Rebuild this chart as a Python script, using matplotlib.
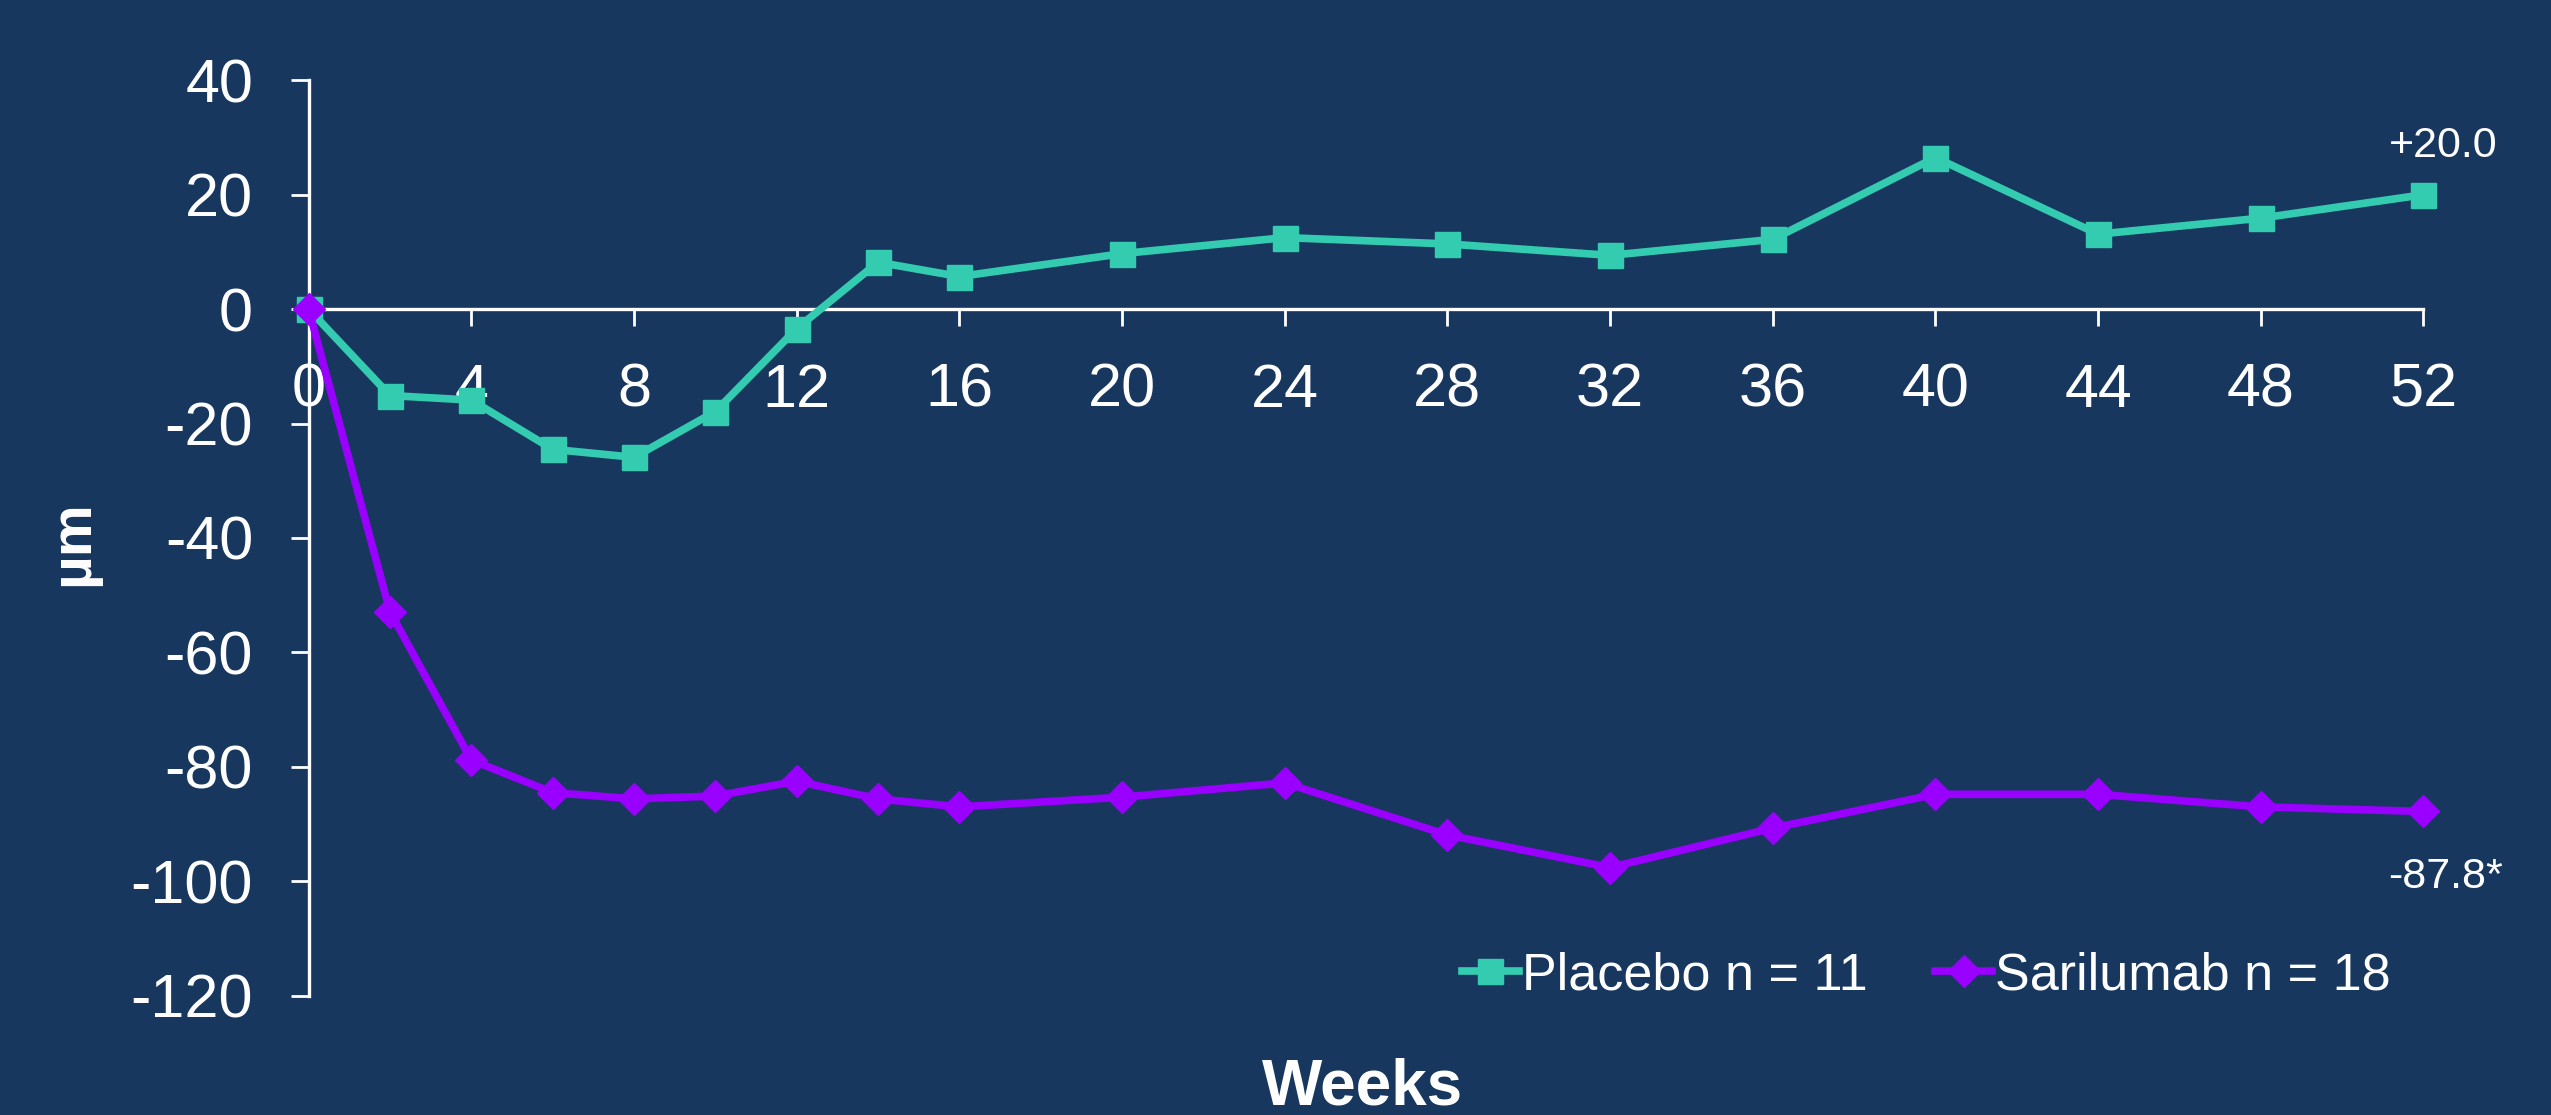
import matplotlib
matplotlib.use("Agg")
import matplotlib.pyplot as plt

# данные
weeks = [0, 2, 4, 6, 8, 10, 12, 14, 16, 20, 24, 28, 32, 36, 40, 44, 48, 52]
placebo = [0, -15.1, -15.9, -24.5, -25.9, -17.9, -3.4, 8.2, 5.7, 9.7, 12.5, 11.4, 9.4, 12.2, 26.5, 13.1, 15.9, 20.0]
sarilumab = [0, -52.9, -78.8, -84.5, -85.6, -85.1, -82.5, -85.6, -87.0, -85.3, -82.8, -91.9, -97.6, -90.7, -84.8, -84.8, -87.0, -87.8]
xticks = list(range(0, 53, 4))
yticks = list(range(-120, 41, 20))
placebo_label = "Placebo n = 11"
sarilumab_label = "Sarilumab n = 18"
end_labels = ["+20.0", "-87.8*"]

bg = "#18375E"
teal = "#33CCB0"
purple = "#9900FF"

plt.rcParams['font.family'] = ['Liberation Sans', 'DejaVu Sans']
plt.rcParams['axes.unicode_minus'] = False  # обычный дефис, как на оригинале

fig = plt.figure(figsize=(25.51, 11.15), dpi=100, facecolor=bg)
ax = fig.add_axes([0.121, 0.107, 0.829, 0.821])
ax.set_facecolor(bg)

ax.plot(weeks, placebo, color=teal, lw=5.5, marker='s', ms=18, label=placebo_label,
        clip_on=False, zorder=3)
ax.plot(weeks, sarilumab, color=purple, lw=5.5, marker='D', ms=16.3, label=sarilumab_label,
        clip_on=False, zorder=4)

ax.set_xlim(0, 52)
ax.set_ylim(-120, 40)
ax.set_xticks(xticks)
ax.set_yticks(yticks)

# оси: x проходит через ноль
ax.spines['top'].set_visible(False)
ax.spines['right'].set_visible(False)
ax.spines['bottom'].set_position(('data', 0))
for s in ('left', 'bottom'):
    ax.spines[s].set_color('white')
    ax.spines[s].set_linewidth(2.4)

ax.tick_params(axis='x', colors='white', labelsize=44, length=12.5, width=2, pad=26, direction='out')
ax.tick_params(axis='y', colors='white', labelsize=44, length=13, width=2, pad=27, direction='out')

fig.text(0.0286, 0.513, 'µm', color='white', fontsize=42, fontweight='bold',
         rotation=90, ha='center', va='center')
# подпись у самого нижнего края, но целиком в кадре
fig.text(0.534, 0.052, 'Weeks', color='white', fontsize=46, fontweight='bold',
         ha='center', va='top')

# подписи у последних точек
ax.annotate(end_labels[0], (weeks[-1], placebo[-1]), xytext=(14, 35), textcoords='offset points',
            ha='center', va='center', color='white', fontsize=31)
ax.annotate(end_labels[1], (weeks[-1], sarilumab[-1]), xytext=(16, -47), textcoords='offset points',
            ha='center', va='center', color='white', fontsize=31)

leg = fig.legend(loc='center left', bbox_to_anchor=(0.573, 0.125), ncol=2, frameon=False,
                 fontsize=37.5, labelcolor='white', handlelength=1.1, handletextpad=0.05,
                 columnspacing=1.3, borderpad=0, borderaxespad=0)

fig.savefig('out.png', dpi=100, facecolor=bg)
